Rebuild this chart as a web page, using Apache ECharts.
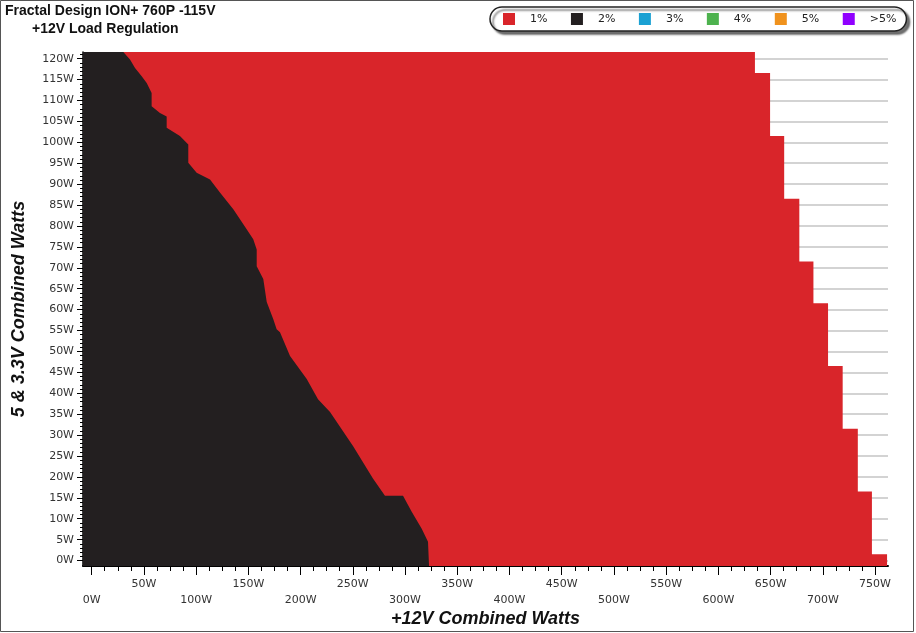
<!DOCTYPE html>
<html><head><meta charset="utf-8">
<script src="https://cdn.jsdelivr.net/npm/echarts@6/dist/echarts.min.js"></script>
<style>html,body{margin:0;padding:0;background:#fff}#c{width:916px;height:633px}</style>
</head><body><div id="c"></div>
<script>
// ---- data ----
const legendNames = ['1%', '2%', '3%', '4%', '5%', '>5%'];
const legendColors = ['#d9252a', '#231f20', '#1ba1d3', '#4db24e', '#f0921d', '#9000ff'];

// Border of the 2% (black) region: 5&3.3V watts and matching +12V watts
const blackEdgeMinorW = [121.6, 119.8, 117.8, 115.8, 114.2, 111.8, 108.6, 107.0, 106.2, 103.5, 101.5, 99.5, 95.1, 92.7, 91.1, 88.0, 84.0, 80.4, 76.8, 74.4, 70.4, 67.3, 61.8, 57.7, 55.3, 54.6, 48.9, 43.4, 38.6, 35.5, 27.4, 19.6, 15.5, 15.5, 11.7, 7.6, 4.5, -1.3];
const blackEdge12VW  = [30.3, 36.7, 41.5, 47.9, 52.7, 57.4, 57.4, 65.4, 71.8, 71.8, 84.5, 92.5, 92.5, 100.5, 113.3, 122.8, 135.6, 145.2, 154.7, 158.0, 158.0, 164.3, 167.6, 173.9, 177.1, 180.3, 189.9, 205.9, 216.7, 228.2, 250.2, 269.3, 280.8, 298.1, 306.4, 316.0, 322.0, 323.0];

// Right edge of the tested (1%) region: top of each band and its +12V limit
const redBandTopW = [121.6, 116.6, 101.5, 86.5, 71.5, 61.5, 46.5, 31.5, 16.5, 1.5];
const redBandLimit12VW = [635, 649.5, 663, 677.5, 691, 705, 719, 733.5, 747, 761.5];

// ticks / labels
const xMajorTicks = [0, 50, 100, 150, 200, 250, 300, 350, 400, 450, 500, 550, 600, 650, 700, 750];
const xLabelsUpper = [50, 150, 250, 350, 450, 550, 650, 750];
const xLabelsLower = [0, 100, 200, 300, 400, 500, 600, 700];
const yMajorTicks = [0, 5, 10, 15, 20, 25, 30, 35, 40, 45, 50, 55, 60, 65, 70, 75, 80, 85, 90, 95, 100, 105, 110, 115, 120];
const xMinorTicks = [];
for (let v = 0; v <= 762; v += 12.5) xMinorTicks.push(v);
const yMinorTicks = [];
for (let v = 0; v <= 121; v += 1) yMinorTicks.push(v);

const X_MIN = -8.3, X_MAX = 762.4, Y_MIN = -1.3, Y_MAX = 121.6;

// ---- chart ----
const chart = echarts.init(document.getElementById('c'), null, {renderer: 'canvas'});
const labelFont = {fontFamily: 'DejaVu Sans', fontSize: 11, color: '#333'};
const nameFont = {fontFamily: 'Liberation Sans', fontSize: 18, fontWeight: 'bold', fontStyle: 'italic', color: '#111'};

function renderRed(params, api) {
  const pts = [api.coord([X_MIN, redBandTopW[0]])];
  for (let i = 0; i < redBandTopW.length; i++) {
    const bottom = i + 1 < redBandTopW.length ? redBandTopW[i + 1] : Y_MIN;
    pts.push(api.coord([redBandLimit12VW[i], redBandTopW[i]]));
    pts.push(api.coord([redBandLimit12VW[i], bottom]));
  }
  pts.push(api.coord([X_MIN, Y_MIN]));
  return {type: 'polygon', shape: {points: pts}, style: {fill: legendColors[0]}};
}
function renderBlack(params, api) {
  const pts = [api.coord([X_MIN, blackEdgeMinorW[0]])];
  for (let i = 0; i < blackEdgeMinorW.length; i++) {
    pts.push(api.coord([blackEdge12VW[i], blackEdgeMinorW[i]]));
  }
  pts.push(api.coord([X_MIN, Y_MIN]));
  return {type: 'polygon', shape: {points: pts}, style: {fill: legendColors[1]}};
}

const series = [
  {type: 'custom', name: legendNames[0], renderItem: renderRed, data: [[0, 0]], clip: true, itemStyle: {color: legendColors[0]}, z: 2},
  {type: 'custom', name: legendNames[1], renderItem: renderBlack, data: [[0, 0]], clip: true, itemStyle: {color: legendColors[1]}, z: 3}
];
for (let i = 2; i < legendNames.length; i++) {
  series.push({type: 'custom', name: legendNames[i], renderItem: function () { return null; }, data: [], itemStyle: {color: legendColors[i]}});
}

chart.setOption({
  animation: false,
  backgroundColor: '#fff',
  title: [
    {text: 'Fractal Design ION+ 760P -115V', left: 5, top: 4, padding: 0,
     textStyle: {fontFamily: 'Liberation Sans', fontSize: 14, fontWeight: 'bold', color: '#111'}},
    {text: '+12V Load Regulation', left: 32, top: 22, padding: 0,
     textStyle: {fontFamily: 'Liberation Sans', fontSize: 14, fontWeight: 'bold', color: '#111'}}
  ],
  legend: {
    data: legendNames.map(function (n) { return {name: n, icon: 'rect'}; }),
    left: 490, top: 7, orient: 'horizontal',
    itemWidth: 12, itemHeight: 12, itemGap: 23.5,
    padding: [6, 10, 6, 13],
    selectedMode: false,
    backgroundColor: '#fff', borderColor: '#222', borderWidth: 1.5, borderRadius: 12,
    shadowColor: 'rgba(0,0,0,0.55)', shadowOffsetX: 3, shadowOffsetY: 3, shadowBlur: 2,
    textStyle: {fontFamily: 'DejaVu Sans', fontSize: 11, color: '#222', padding: [0, 0, 0, 10]}
  },
  grid: {left: 83, right: 28, top: 52, bottom: 65.5, containLabel: false},
  xAxis: [
    {type: 'value', min: X_MIN, max: X_MAX, position: 'bottom',
     name: '+12V Combined Watts', nameLocation: 'middle', nameGap: 44, nameTextStyle: nameFont,
     axisLine: {show: true, onZero: false, lineStyle: {color: '#000', width: 2}},
     axisTick: {show: true, customValues: xMajorTicks, length: 9, lineStyle: {color: '#000', width: 1}},
     axisLabel: Object.assign({show: true, customValues: xLabelsUpper, margin: 13, formatter: function (v) { return v + 'W'; }}, labelFont),
     splitLine: {show: false}},
    {type: 'value', min: X_MIN, max: X_MAX, position: 'bottom',
     axisLine: {show: false, onZero: false},
     axisTick: {show: true, customValues: xMinorTicks, length: 5, lineStyle: {color: '#000', width: 1}},
     axisLabel: Object.assign({show: true, customValues: xLabelsLower, margin: 29, formatter: function (v) { return v + 'W'; }}, labelFont),
     splitLine: {show: false}}
  ],
  yAxis: [
    {type: 'value', min: Y_MIN, max: Y_MAX, position: 'left',
     name: '5 & 3.3V Combined Watts', nameLocation: 'middle', nameGap: 55, nameRotate: 90, nameTextStyle: nameFont,
     axisLine: {show: true, onZero: false, lineStyle: {color: '#000', width: 1.5}},
     axisTick: {show: true, customValues: yMajorTicks, length: 6, lineStyle: {color: '#000', width: 1}},
     axisLabel: Object.assign({show: true, customValues: yMajorTicks, margin: 9, formatter: function (v) { return v + 'W'; }}, labelFont),
     splitLine: {show: true, lineStyle: {color: '#c4c4c4', width: 1.5}}},
    {type: 'value', min: Y_MIN, max: Y_MAX, position: 'left',
     axisLine: {show: false, onZero: false},
     axisTick: {show: true, customValues: yMinorTicks, length: 3, lineStyle: {color: '#000', width: 1}},
     axisLabel: {show: false},
     splitLine: {show: false}}
  ],
  series: series,
  graphic: [
    {type: 'rect', silent: true, z: 100, shape: {x: 0.5, y: 0.5, width: 913, height: 631},
     style: {fill: null, stroke: '#555', lineWidth: 1}}
  ]
});
</script>
</body></html>
